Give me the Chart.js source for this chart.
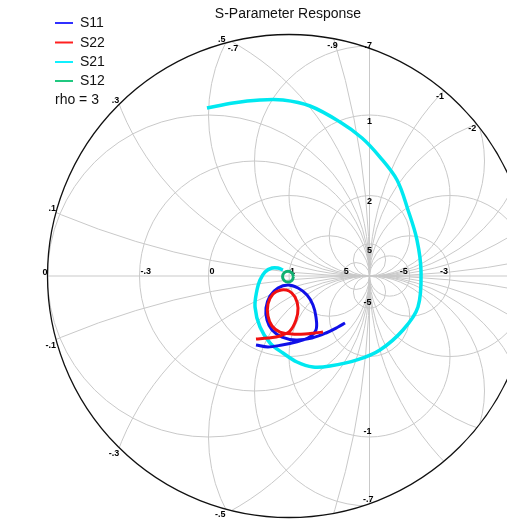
<!DOCTYPE html>
<html>
<head>
<meta charset="utf-8">
<script src="https://cdn.jsdelivr.net/npm/chart.js@4/dist/chart.umd.min.js"></script>
<style>
  html, body { margin: 0; padding: 0; background: #fff; overflow: hidden; }
  canvas { display: block; }
</style>
</head>
<body>
<canvas id="smith" width="507" height="524"></canvas>
<script>
// Reflection coefficient traces, real and imaginary parts of Γ
const s21Re = [-1.019, -0.696, -0.360, -0.075, 0.261, 0.634, 0.907, 1.130, 1.342, 1.478, 1.590, 1.640, 1.602, 1.416, 1.130, 0.845, 0.509, 0.298, 0.099, -0.075, -0.236, -0.360, -0.422, -0.398, -0.360, -0.298, -0.211, -0.137, -0.075];
const s21Im = [2.087, 2.149, 2.186, 2.186, 2.112, 1.913, 1.715, 1.478, 1.193, 0.820, 0.447, 0.050, -0.385, -0.671, -0.919, -1.043, -1.118, -1.130, -1.068, -0.957, -0.832, -0.634, -0.385, -0.174, -0.050, 0.050, 0.099, 0.099, 0.075];

const s11Re = [-0.410, -0.261, -0.087, 0.087, 0.236, 0.335, 0.335, 0.298, 0.224, 0.112, -0.012, -0.137, -0.236, -0.286, -0.273, -0.211, -0.087, 0.087, 0.286, 0.460, 0.609, 0.696];
const s11Im = [-0.857, -0.882, -0.857, -0.820, -0.770, -0.671, -0.509, -0.360, -0.236, -0.149, -0.112, -0.149, -0.248, -0.398, -0.547, -0.671, -0.758, -0.795, -0.770, -0.708, -0.634, -0.584];

const s22Re = [-0.410, -0.261, -0.112, 0.012, 0.087, 0.112, 0.075, 0.000, -0.099, -0.199, -0.261, -0.261, -0.211, -0.112, 0.037, 0.199, 0.323, 0.422];
const s22Im = [-0.783, -0.770, -0.745, -0.683, -0.547, -0.398, -0.261, -0.186, -0.174, -0.224, -0.348, -0.497, -0.621, -0.696, -0.720, -0.720, -0.708, -0.696];

const s12Re = [0.056, 0.036, -0.012, -0.060, -0.080, -0.060, -0.012, 0.036, 0.056];
const s12Im = [-0.008, 0.040, 0.060, 0.040, -0.008, -0.056, -0.076, -0.056, -0.008];

// Chart extent and grid values
const rho = 3;
const viewRe = [-3.590, 2.708];
const viewIm = [-3.081, 3.429];
const resistanceValues = [0, 1, 5, -0.3, -0.5, -0.7, -0.9, -1, -1.3, -1.5, -2, -3, -5];
const reactanceValues = [0, 0.1, 0.3, 0.5, 0.7, 1, 2, 5, -0.1, -0.3, -0.5, -0.7, -1, -2, -5];
const axisResistanceLabels = [0, -0.3, 1, 5, -5, -3];
const rimResistanceLabels = [-0.7, -0.9, -1.3, -1.5];
const rimReactanceLabels = [0, 0.1, 0.3, 0.5, 0.7, -0.1, -0.3, -0.5, -0.7];
const lineReactanceLabels = [1, 2, 5, -5, -1];

const seriesNames = ['S11', 'S22', 'S21', 'S12'];
const seriesColors = ['#1010e8', '#f01010', '#00e8f0', '#10b070'];
const legendColors = ['#3030ff', '#ff2020', '#10f0ff', '#20c880'];

const toPoints = (re, im) => re.map((r, i) => ({ x: r, y: im[i] }));

// grid values are printed to one significant figure
function fmt(v) {
  if (v === 0) return '0';
  const a = Math.abs(v);
  const s = v < 0 ? '-' : '';
  if (a < 1) return s + a.toFixed(1).replace(/^0/, '');
  return s + String(Math.round(a));
}

const smithGrid = {
  id: 'smithGrid',
  beforeDatasetsDraw(chart) {
    const { ctx, scales: { x: xs, y: ys } } = chart;
    const px = (u) => xs.getPixelForValue(u);
    const py = (v) => ys.getPixelForValue(v);
    const unit = px(1) - px(0);
    const cx = px(0), cy = py(0), R = rho * unit;

    // constant resistance and reactance circles, clipped to |Γ| <= rho
    ctx.save();
    ctx.beginPath();
    ctx.arc(cx, cy, R, 0, Math.PI * 2);
    ctx.clip();
    ctx.strokeStyle = '#c9c9c9';
    ctx.lineWidth = 1;

    resistanceValues.forEach((r) => {
      ctx.beginPath();
      if (r === -1) {
        ctx.moveTo(px(1), py(rho)); ctx.lineTo(px(1), py(-rho));
      } else {
        const c = r / (r + 1), rad = 1 / Math.abs(r + 1);
        ctx.arc(px(c), cy, rad * unit, 0, Math.PI * 2);
      }
      ctx.stroke();
    });
    reactanceValues.forEach((xv) => {
      ctx.beginPath();
      if (xv === 0) {
        ctx.moveTo(px(-rho), cy); ctx.lineTo(px(rho), cy);
      } else {
        const b = 1 / xv;
        ctx.arc(px(1), py(b), Math.abs(b) * unit, 0, Math.PI * 2);
      }
      ctx.stroke();
    });
    ctx.restore();

    // outer boundary |Γ| = rho
    ctx.save();
    ctx.beginPath();
    ctx.arc(cx, cy, R, 0, Math.PI * 2);
    ctx.strokeStyle = '#111';
    ctx.lineWidth = 1.3;
    ctx.stroke();
    ctx.restore();

    // grid labels
    ctx.save();
    ctx.fillStyle = '#000';
    ctx.font = 'bold 9px "Liberation Sans", Arial, sans-serif';

    axisResistanceLabels.forEach((r) => {
      const u = (r - 1) / (r + 1);
      ctx.textBaseline = 'bottom';
      if (u < 1) { ctx.textAlign = 'left'; ctx.fillText(fmt(r), px(u) + 1, cy); }
      else { ctx.textAlign = 'right'; ctx.fillText(fmt(r), px(u) - 2, cy); }
    });

    rimResistanceLabels.forEach((r) => {
      // where the circle for r meets |Γ| = rho (upper half)
      const uu = (rho * rho * (r + 1) + r - 1) / (2 * r);
      const v = Math.sqrt(Math.max(0, rho * rho - uu * uu));
      const ang = Math.atan2(v, uu);
      const lx = px(uu) - 6 * Math.cos(ang), ly = py(v) + 7 * Math.sin(ang);
      ctx.textAlign = 'center'; ctx.textBaseline = 'middle';
      ctx.fillText(fmt(r), lx, ly);
    });

    rimReactanceLabels.forEach((xv) => {
      let u, v;
      if (xv === 0) { u = -rho; v = 0; }
      else {
        const b = 1 / xv, k = (rho * rho + 1) / 2;
        // u + b v = k, u^2 + v^2 = rho^2 ; take the left-hand intersection
        const A = 1 + b * b, B = -2 * k * b, C = k * k - rho * rho;
        const disc = Math.sqrt(Math.max(0, B * B - 4 * A * C));
        const v1 = (-B + disc) / (2 * A), v2 = (-B - disc) / (2 * A);
        const u1 = k - b * v1, u2 = k - b * v2;
        if (u1 < u2) { u = u1; v = v1; } else { u = u2; v = v2; }
      }
      const x0 = px(u), y0 = py(v);
      if (u < 0) {
        ctx.textAlign = 'right';
        ctx.textBaseline = v >= 0 ? 'bottom' : 'top';
        ctx.fillText(fmt(xv), x0, y0 + 1);
      } else {
        ctx.textAlign = 'center'; ctx.textBaseline = 'middle';
        ctx.fillText(fmt(xv), x0 + 5, v >= 0 ? y0 - 1 : y0 - 6);
      }
    });

    lineReactanceLabels.forEach((xv) => {
      const v = 2 / xv;
      ctx.textAlign = 'center';
      if (xv > 0) { ctx.textBaseline = 'top'; ctx.fillText(fmt(xv), px(1), py(v) + 2); }
      else { ctx.textBaseline = 'bottom'; ctx.fillText(fmt(xv), px(1) - 2, py(v) - 1); }
    });
    ctx.restore();
  },
  afterDraw(chart) {
    const { ctx } = chart;
    ctx.save();
    ctx.fillStyle = '#111';
    ctx.font = '14px "Liberation Sans", Arial, sans-serif';
    ctx.textAlign = 'center'; ctx.textBaseline = 'middle';
    ctx.fillText('S-Parameter Response', 288, 14);

    ctx.textAlign = 'left';
    const rows = [23, 42.5, 62, 81];
    seriesNames.forEach((name, i) => {
      ctx.strokeStyle = legendColors[i];
      ctx.lineWidth = 2;
      ctx.beginPath(); ctx.moveTo(55, rows[i]); ctx.lineTo(73, rows[i]); ctx.stroke();
      ctx.fillText(name, 80, rows[i] + 0.5);
    });
    ctx.fillText('rho = ' + rho, 55, 100.5);
    ctx.restore();
  }
};

const traces = { S11: [s11Re, s11Im], S22: [s22Re, s22Im], S21: [s21Re, s21Im], S12: [s12Re, s12Im] };
const drawOrder = { S11: 2, S22: 1, S21: 3, S12: 0 };

new Chart(document.getElementById('smith'), {
  type: 'scatter',
  data: {
    datasets: seriesNames.map((name, i) => ({
      label: name,
      data: toPoints(traces[name][0], traces[name][1]),
      showLine: true,
      borderColor: seriesColors[i],
      backgroundColor: seriesColors[i],
      borderWidth: name === 'S21' ? 3.5 : 3,
      pointRadius: 0,
      tension: 0.35,
      order: drawOrder[name]
    }))
  },
  options: {
    responsive: false,
    animation: false,
    devicePixelRatio: 1,
    layout: { padding: 0 },
    plugins: { legend: { display: false }, title: { display: false }, tooltip: { enabled: false } },
    scales: {
      x: { type: 'linear', min: viewRe[0], max: viewRe[1], display: false },
      y: { type: 'linear', min: viewIm[0], max: viewIm[1], display: false }
    }
  },
  plugins: [smithGrid]
});
</script>
</body>
</html>
